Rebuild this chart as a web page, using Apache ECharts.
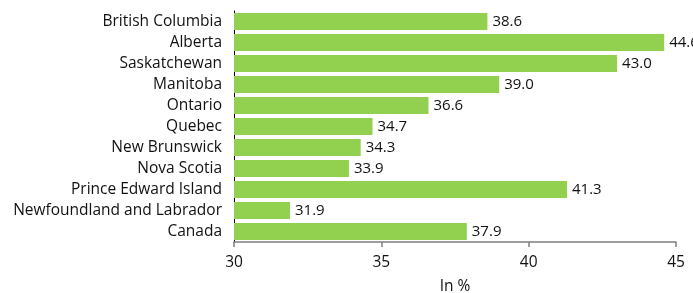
<!DOCTYPE html>
<html><head><meta charset="utf-8">
<script src="https://cdn.jsdelivr.net/npm/echarts@6/dist/echarts.min.js"></script>
<style>html,body{margin:0;padding:0;background:#fff}#c{width:693px;height:293px}</style>
</head><body><div id="c"></div>
<script>
const categories = ["British Columbia","Alberta","Saskatchewan","Manitoba","Ontario","Quebec","New Brunswick","Nova Scotia","Prince Edward Island","Newfoundland and Labrador","Canada"];
const values = [38.6,44.6,43.0,39.0,36.6,34.7,34.3,33.9,41.3,31.9,37.9];
const xTicks = [30,35,40,45];
const font = "'Open Sans', 'DejaVu Sans', sans-serif";
const chart = echarts.init(document.getElementById('c'));
chart.setOption({
  animation:false,
  grid:{left:234,right:17,top:11,bottom:51,outerBoundsMode:'none',containLabel:false},
  xAxis:{type:'value',min:30,max:45,interval:5,
    axisLine:{show:true,lineStyle:{color:'#7f7f7f',width:1.5}},
    axisTick:{show:true,length:5,lineStyle:{color:'#7f7f7f',width:1.5}},
    splitLine:{show:false},
    axisLabel:{color:'#111',fontSize:15.5,fontFamily:font,margin:13,formatter:v=>xTicks.includes(v)?String(v):''},
    name:'In %',nameLocation:'middle',nameGap:37,
    nameTextStyle:{color:'#111',fontSize:15.5,fontFamily:font}},
  yAxis:{type:'category',data:categories,inverse:true,
    axisLine:{show:true,lineStyle:{color:'#000',width:1}},
    axisTick:{show:false},
    axisLabel:{color:'#111',fontSize:15.5,fontFamily:font,margin:12}},
  series:[{type:'bar',data:values,barWidth:'80%',
    itemStyle:{color:'#92d050'},
    label:{show:true,position:'right',distance:5,color:'#111',fontSize:15,fontFamily:font,formatter:p=>p.value.toFixed(1)}}]
});
</script></body></html>
